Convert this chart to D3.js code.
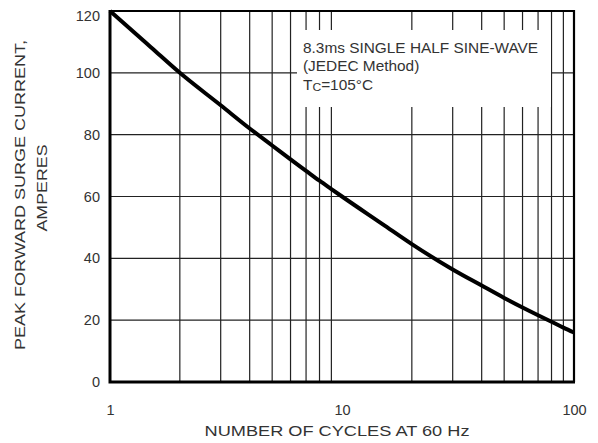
<!DOCTYPE html>
<html>
<head>
<meta charset="utf-8">
<script src="https://cdn.jsdelivr.net/npm/d3@7"></script>
<style>
  body { margin: 0; background: #fff; }
  svg { display: block; font-family: "Liberation Sans", Arial, sans-serif; }
</style>
</head>
<body>
<svg id="chart" width="598" height="443"></svg>
<script>
// surge curve
const cycles  = [1, 1.5, 2, 3, 4, 5, 6, 7, 8, 9, 10, 15, 20, 30, 40, 50, 60, 70, 80, 90, 100];
const current = [120, 108.3, 100, 89.5, 82, 76.5, 72, 68.3, 65.1, 62.4, 60, 51, 44.6, 36.4, 31.2, 27.2, 24.1, 21.6, 19.5, 17.6, 16];

const xTicks = [1, 10, 100];
const xGrid = [2, 3, 4, 5, 6, 7, 8, 9, 20, 30, 40, 50, 60, 70, 80, 90];
const yTicks = [0, 20, 40, 60, 80, 100, 120];

const noteLines = ["8.3ms SINGLE HALF SINE-WAVE", "(JEDEC Method)"];

const mLeft = 110, mRight = 574, mTop = 11, mBottom = 382;

const svg = d3.select('#chart');

const x = d3.scaleLog().domain([1, 100]).range([mLeft, mRight]);
const y = d3.scaleLinear().domain([0, 120]).range([mBottom, mTop]);

// grid
svg.append('g')
  .selectAll('line')
  .data(xGrid)
  .join('line')
  .attr('x1', d => x(d)).attr('x2', d => x(d))
  .attr('y1', mTop).attr('y2', mBottom)
  .attr('stroke', '#222')
  .attr('stroke-width', 1.2);

svg.append('g')
  .selectAll('line')
  .data(yTicks.filter(d => d > 0 && d < 120))
  .join('line')
  .attr('x1', mLeft).attr('x2', mRight)
  .attr('y1', d => y(d)).attr('y2', d => y(d))
  .attr('stroke', '#222')
  .attr('stroke-width', 1.2);

// note box blanks out the grid behind it
svg.append('rect')
  .attr('x', 297).attr('y', 30)
  .attr('width', 254).attr('height', 77)
  .attr('fill', '#fff');

// the datasheet lettering is a bit wider than Arial, hence the x stretch
const note = svg.append('g')
  .attr('transform', 'translate(303,0) scale(1.1,1)')
  .attr('font-size', 14)
  .attr('fill', '#333');

note.selectAll('text.l')
  .data(noteLines)
  .join('text')
  .attr('class', 'l')
  .attr('x', 0)
  .attr('y', (d, i) => 53 + i * 18.5)
  .text(d => d);

const tc = note.append('text').attr('x', 0).attr('y', 90);
tc.append('tspan').text('T');
tc.append('tspan').attr('font-size', 11).attr('dy', 1.5).text('C');
tc.append('tspan').attr('dy', -1.5).text('=105°C');

// curve
const line = d3.line()
  .x(d => x(d[0]))
  .y(d => y(d[1]))
  .curve(d3.curveMonotoneX);

svg.append('path')
  .datum(cycles.map((c, i) => [c, current[i]]))
  .attr('d', line)
  .attr('fill', 'none')
  .attr('stroke', '#000')
  .attr('stroke-width', 4);

// frame: left and bottom edges heavier than top and right
svg.append('path')
  .attr('d', `M${mLeft},${mTop}H${mRight}V${mBottom}`)
  .attr('fill', 'none')
  .attr('stroke', '#000')
  .attr('stroke-width', 2.2);
svg.append('path')
  .attr('d', `M${mLeft},${mTop - 1}V${mBottom}H${mRight + 1}`)
  .attr('fill', 'none')
  .attr('stroke', '#000')
  .attr('stroke-width', 3);

// axes
const xAxis = svg.append('g')
  .attr('transform', `translate(0,${mBottom})`)
  .call(d3.axisBottom(x).tickValues(xTicks).tickFormat(d3.format('d')).tickSize(0).tickPadding(23));

const yAxis = svg.append('g')
  .attr('transform', `translate(${mLeft},0)`)
  .call(d3.axisLeft(y).tickValues(yTicks).tickSize(0).tickPadding(10));

[xAxis, yAxis].forEach(a => {
  a.select('.domain').remove();
  a.selectAll('text')
    .attr('font-family', '"Liberation Sans", Arial, sans-serif')
    .attr('font-size', 14.5)
    .attr('fill', '#333');
});
yAxis.selectAll('text').filter(d => d === 120).attr('dy', '0.62em');

// titles
svg.append('text')
  .attr('x', 337).attr('y', 435.5)
  .attr('text-anchor', 'middle')
  .attr('font-size', 15)
  .attr('fill', '#333')
  .attr('textLength', 265)
  .attr('lengthAdjust', 'spacingAndGlyphs')
  .text('NUMBER OF CYCLES AT 60 Hz');

svg.append('text')
  .attr('transform', 'translate(25,195) rotate(-90)')
  .attr('text-anchor', 'middle')
  .attr('font-size', 15)
  .attr('fill', '#333')
  .attr('textLength', 310)
  .attr('lengthAdjust', 'spacingAndGlyphs')
  .text('PEAK FORWARD SURGE CURRENT,');

svg.append('text')
  .attr('transform', 'translate(47,188) rotate(-90)')
  .attr('text-anchor', 'middle')
  .attr('font-size', 15)
  .attr('fill', '#333')
  .attr('textLength', 87)
  .attr('lengthAdjust', 'spacingAndGlyphs')
  .text('AMPERES');
</script>
</body>
</html>
